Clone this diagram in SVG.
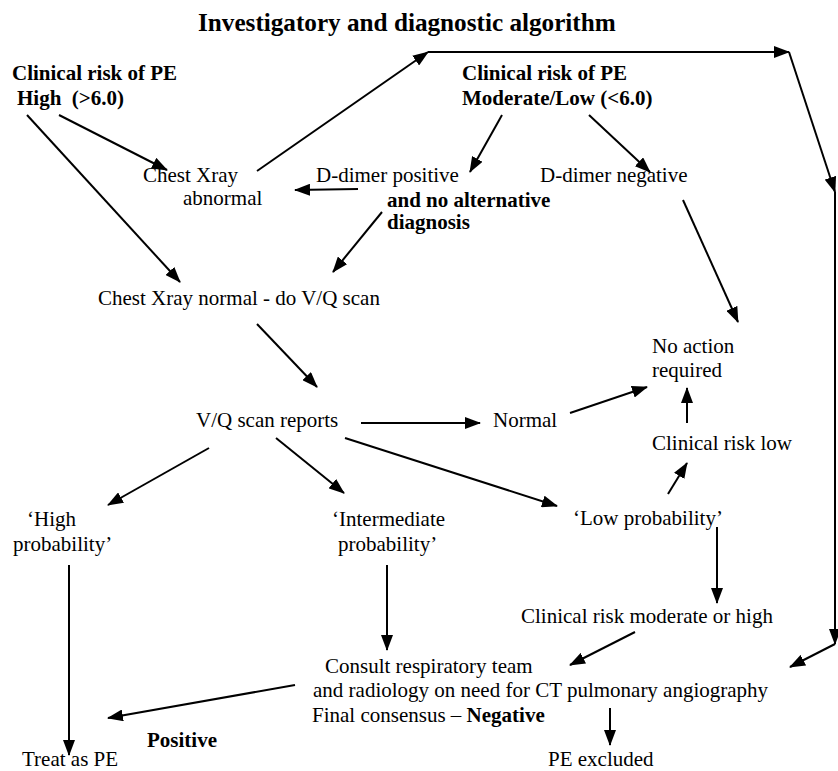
<svg xmlns="http://www.w3.org/2000/svg" width="838" height="771" viewBox="0 0 838 771">
<style>
text{font-family:"Liberation Serif","Times New Roman",serif;font-size:21px;fill:#000}
.b{font-weight:bold}
.t{font-size:25.2px;font-weight:bold}
.c line{stroke:#000;stroke-width:2;marker-end:url(#ah)}
</style>
<defs>
<marker id="ah" viewBox="0 0 16 12" markerUnits="userSpaceOnUse" markerWidth="16" markerHeight="12" refX="15" refY="6" orient="auto">
<path d="M0,0 L16,6 L0,12 z" fill="#000"/>
</marker>
</defs>
<rect width="838" height="771" fill="#fff"/>
<text class="t" x="198" y="31">Investigatory and diagnostic algorithm</text>
<g id="high"><text class="b" x="12" y="80">Clinical risk of PE</text><text class="b" x="17" y="105" xml:space="preserve">High  (&gt;6.0)</text></g>
<g id="modlow"><text class="b" x="462" y="80">Clinical risk of PE</text><text class="b" x="462" y="105">Moderate/Low (&lt;6.0)</text></g>
<g id="cxrabn"><text x="143" y="182">Chest Xray</text><text x="183" y="205">abnormal</text></g>
<g id="ddpos"><text x="316" y="182">D-dimer positive</text><text class="b" x="387" y="207">and no alternative</text><text class="b" x="387" y="229">diagnosis</text></g>
<g id="ddneg"><text x="540" y="182">D-dimer negative</text></g>
<g id="cxrnorm"><text x="98" y="305">Chest Xray normal - do V/Q scan</text></g>
<g id="noaction"><text x="652" y="353">No action</text><text x="652" y="377">required</text></g>
<g id="vq"><text x="196" y="427">V/Q scan reports</text></g>
<g id="normal"><text x="493" y="427">Normal</text></g>
<g id="risklow"><text x="652" y="450">Clinical risk low</text></g>
<g id="highprob"><text x="27" y="526">‘High</text><text x="13" y="551">probability’</text></g>
<g id="intprob"><text x="332" y="526">‘Intermediate</text><text x="338" y="551">probability’</text></g>
<g id="lowprob"><text x="573" y="525">‘Low probability’</text></g>
<g id="riskmod"><text x="521" y="623">Clinical risk moderate or high</text></g>
<g id="consult"><text x="325" y="673">Consult respiratory team</text><text x="313" y="697">and radiology on need for CT pulmonary angiography</text><text x="312" y="722">Final consensus – <tspan class="b">Negative</tspan></text></g>
<g id="positive"><text class="b" x="147" y="747">Positive</text></g>
<g id="treat"><text x="22" y="766">Treat as PE</text></g>
<g id="excluded"><text x="548" y="766">PE excluded</text></g>
<g id="connectors" class="c">
<line x1="59" y1="115" x2="167" y2="170"/>
<line x1="27" y1="115" x2="180" y2="282"/>
<line x1="257" y1="171" x2="428" y2="52"/>
<line x1="428" y1="52" x2="789" y2="52"/>
<line x1="789" y1="52" x2="835" y2="192"/>
<line x1="835" y1="192" x2="835" y2="644"/>
<line x1="835" y1="644" x2="790" y2="667"/>
<line x1="502" y1="115" x2="470" y2="172"/>
<line x1="589" y1="115" x2="650" y2="172"/>
<line x1="358" y1="189" x2="295" y2="190"/>
<line x1="382" y1="212" x2="333" y2="272"/>
<line x1="683" y1="200" x2="738" y2="322"/>
<line x1="257" y1="324" x2="317" y2="387"/>
<line x1="361" y1="423" x2="480" y2="423"/>
<line x1="570" y1="413" x2="647" y2="387"/>
<line x1="687" y1="423" x2="687" y2="388"/>
<line x1="668" y1="494" x2="687" y2="463"/>
<line x1="209" y1="448" x2="108" y2="505"/>
<line x1="276" y1="438" x2="344" y2="493"/>
<line x1="345" y1="438" x2="557" y2="506"/>
<line x1="69" y1="565" x2="69" y2="755"/>
<line x1="387" y1="565" x2="387" y2="650"/>
<line x1="717" y1="527" x2="717" y2="603"/>
<line x1="635" y1="632" x2="570" y2="665"/>
<line x1="295" y1="685" x2="108" y2="718"/>
<line x1="610" y1="708" x2="610" y2="745"/>
</g>
</svg>
